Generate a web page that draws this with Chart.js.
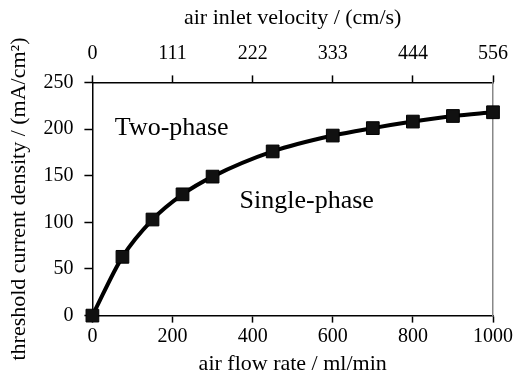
<!DOCTYPE html>
<html>
<head>
<meta charset="utf-8">
<script src="https://cdn.jsdelivr.net/npm/chart.js@4/dist/chart.umd.min.js"></script>
<style>
  html, body { margin: 0; padding: 0; background: #fff; }
</style>
</head>
<body>
<canvas id="thresholdChart" width="518" height="386"></canvas>
<script>
// data
var flowRates = [0, 75, 150, 225, 300, 450, 600, 700, 800, 900, 1000];
var thresholdCurrent = [0, 63, 103, 130, 149, 176, 193, 201, 208, 214, 218];
var velocityTicks = [0, 111, 222, 333, 444, 556];
var regionLabels = ['Two-phase', 'Single-phase'];
var regionX = [198, 535];
var regionY = [201, 123];

var serif = 'Liberation Serif, Times New Roman, serif';

var regionText = {
  id: 'regionText',
  afterDraw: function (chart) {
    var c = chart.ctx;
    c.save();
    c.font = '26px ' + serif;
    c.fillStyle = '#000';
    c.textAlign = 'center';
    c.textBaseline = 'middle';
    for (var i = 0; i < regionLabels.length; i++) {
      c.fillText(regionLabels[i],
        chart.scales.x.getPixelForValue(regionX[i]),
        chart.scales.y.getPixelForValue(regionY[i]));
    }
    c.restore();
  }
};

var ctx = document.getElementById('thresholdChart').getContext('2d');

var thresholdChart = new Chart(ctx, {
  type: 'line',
  data: {
    datasets: [{
      data: flowRates.map(function (f, i) { return { x: f, y: thresholdCurrent[i] }; }),
      borderColor: '#000',
      borderWidth: 4,
      backgroundColor: '#111',
      pointStyle: 'rect',
      pointRadius: 9,
      pointBorderWidth: 1,
      pointBorderColor: '#000',
      pointBackgroundColor: '#111',
      cubicInterpolationMode: 'monotone',
      clip: false,
      fill: false
    }]
  },
  options: {
    responsive: false,
    animation: false,
    layout: { padding: { left: 6, right: 19, top: 5, bottom: 9 } },
    plugins: { legend: { display: false }, tooltip: { enabled: false } },
    scales: {
      x: {
        type: 'linear',
        position: 'bottom',
        min: 0, max: 1000,
        ticks: {
          stepSize: 200, color: '#000', font: { family: serif, size: 20 }, padding: 2, maxRotation: 0,
          callback: function (v) { return String(v); }
        },
        grid: { drawOnChartArea: false, tickLength: 7, color: '#000', tickWidth: 1.5 },
        border: { color: '#000', width: 1.5 },
        title: { display: true, text: 'air flow rate / ml/min', color: '#000', font: { family: serif, size: 22 }, padding: { top: 0, bottom: 0 } }
      },
      x2: {
        type: 'linear',
        position: 'top',
        min: 0, max: 1000,
        ticks: {
          stepSize: 200, color: '#000', font: { family: serif, size: 20 }, padding: 10, maxRotation: 0,
          callback: function (v, i) { return velocityTicks[i]; }
        },
        grid: { drawOnChartArea: false, tickLength: 7, color: '#000', tickWidth: 1.5 },
        border: { color: '#000', width: 1.5 },
        title: { display: true, text: 'air inlet velocity / (cm/s)', color: '#000', font: { family: serif, size: 22 }, padding: { top: 0, bottom: 0 } }
      },
      y: {
        min: 0, max: 250,
        ticks: { stepSize: 50, color: '#000', font: { family: serif, size: 20 }, padding: 11 },
        grid: { drawOnChartArea: false, tickLength: 8, color: '#000', tickWidth: 1.5 },
        border: { color: '#000', width: 1.5 },
        title: { display: true, text: 'threshold current density / (mA/cm²)', color: '#000', font: { family: serif, size: 22 }, padding: { top: 0, bottom: 0 } }
      },
      y2: {
        position: 'right',
        min: 0, max: 250,
        ticks: { display: false },
        grid: { display: false, drawTicks: false },
        border: { color: '#888', width: 1.5 }
      }
    }
  },
  plugins: [regionText]
});
</script>
</body>
</html>
